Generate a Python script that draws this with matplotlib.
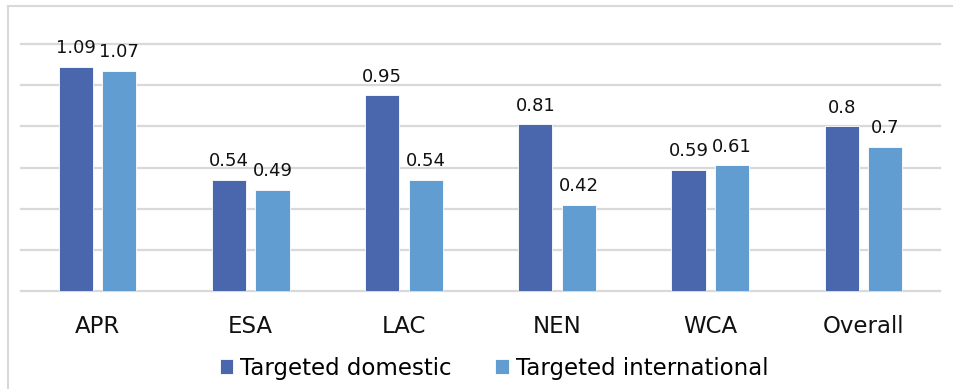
import matplotlib.pyplot as plt
import numpy as np
from matplotlib.lines import Line2D

regions = ['APR', 'ESA', 'LAC', 'NEN', 'WCA', 'Overall']
domestic = [1.09, 0.54, 0.95, 0.81, 0.59, 0.8]
international = [1.07, 0.49, 0.54, 0.42, 0.61, 0.7]
series_names = ['Targeted domestic', 'Targeted international']

dark_blue = '#4A66AC'
light_blue = '#629DD1'
grid_gray = '#D9D9D9'

plt.rcParams['font.family'] = 'DejaVu Sans'

fig = plt.figure(figsize=(9.54, 3.89), dpi=100)
W, H = 954, 389
ax = fig.add_axes([21 / W, 1 - 291 / H, (940 - 21) / W, (291 - 44) / H])

x = np.arange(len(regions))
width = 0.222
offset = 0.142

b1 = ax.bar(x - offset, domestic, width, color=dark_blue, edgecolor='white',
            linewidth=0.6, zorder=3, label=series_names[0])
b2 = ax.bar(x + offset, international, width, color=light_blue, edgecolor='white',
            linewidth=0.6, zorder=3, label=series_names[1])

for bars, vals in ((b1, domestic), (b2, international)):
    ax.bar_label(bars, labels=[f'{v:g}' for v in vals], padding=7,
                 fontsize=13, color='#111111')

ax.set_xlim(-0.5, len(regions) - 0.5)
ax.set_ylim(0, 1.2)
ax.set_yticks(np.arange(0, 1.21, 0.2))
ax.yaxis.grid(True, color=grid_gray, linewidth=1.6, zorder=0)
for gl in ax.get_ygridlines():
    gl.set_clip_on(False)
ax.tick_params(axis='y', left=False, labelleft=False)
ax.set_xticks(x)
ax.set_xticklabels(regions, fontsize=16.5, color='#111111')
ax.tick_params(axis='x', length=0, pad=17)
for s in ax.spines.values():
    s.set_visible(False)

# outer chart frame (left and top edges)
fig.add_artist(Line2D([8.5 / W, 8.5 / W], [0, 1 - 6 / H], color=grid_gray,
                      linewidth=1.5, transform=fig.transFigure))
fig.add_artist(Line2D([8.5 / W, 1.01], [1 - 6 / H, 1 - 6 / H], color=grid_gray,
                      linewidth=1.5, transform=fig.transFigure))

fig.legend(handles=[b1, b2], labels=series_names, loc='center',
           bbox_to_anchor=(494 / W, 1 - 368 / H), ncol=2, frameon=False,
           fontsize=16.5, handlelength=0.6, handleheight=0.6,
           handletextpad=0.3, columnspacing=1.9, borderpad=0, borderaxespad=0)

fig.savefig('out.png', dpi=100)
